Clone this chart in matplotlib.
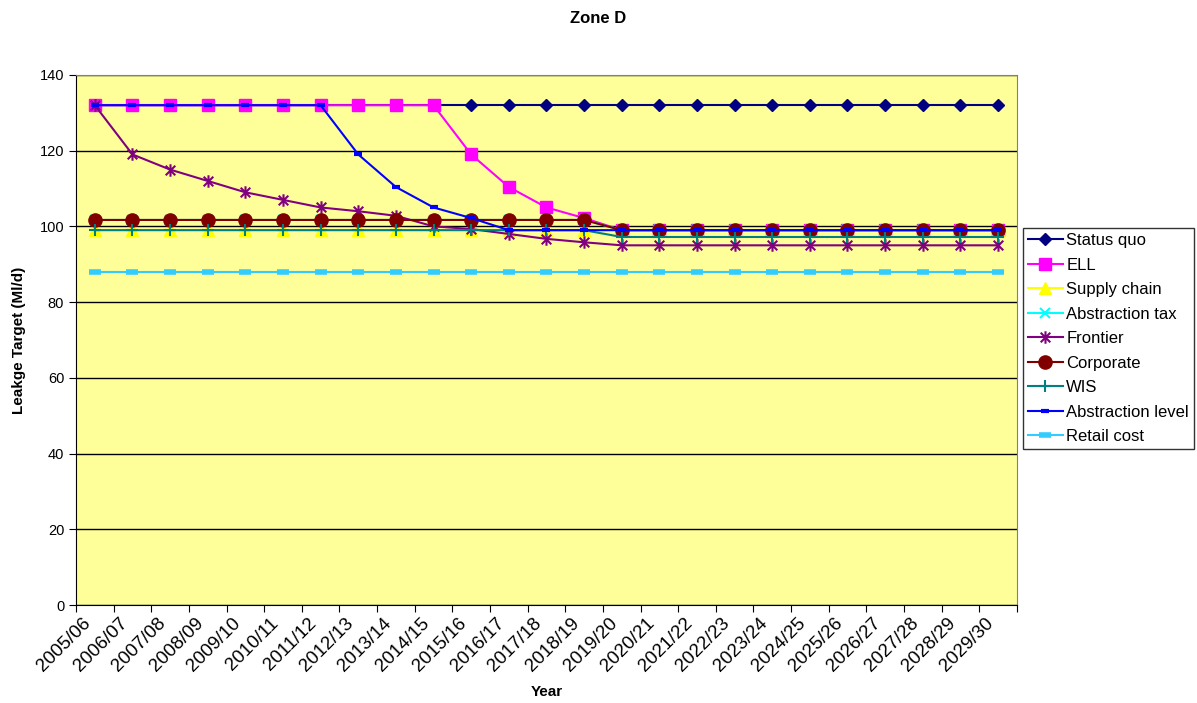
import numpy as np
import matplotlib.pyplot as plt
from matplotlib.path import Path

plt.rcParams['font.family'] = ['Liberation Sans', 'DejaVu Sans']

years = ['2005/06', '2006/07', '2007/08', '2008/09', '2009/10', '2010/11',
         '2011/12', '2012/13', '2013/14', '2014/15', '2015/16', '2016/17',
         '2017/18', '2018/19', '2019/20', '2020/21', '2021/22', '2022/23',
         '2023/24', '2024/25', '2025/26', '2026/27', '2027/28', '2028/29',
         '2029/30']

status_quo = [132] * 25
ell = [132] * 10 + [119, 110.4, 105, 102.2] + [99] * 11
supply_chain = [99] * 25
abstraction_tax = [101.7] * 14 + [99] * 11
frontier = [132, 119, 115, 112, 109, 107, 105, 104, 102.8, 100, 99.3,
            98, 96.7, 95.8] + [95] * 11
corporate = [101.7] * 14 + [99] * 11
wis = [99] * 14 + [97.2] * 11
abstraction_level = [132] * 7 + [119, 110.4, 105, 102.2] + [99] * 14
retail_cost = [88] * 25

# Excel-style star: an x with a vertical bar through it
star = Path([(-1, -1), (1, 1), (-1, 1), (1, -1), (0, -1.3), (0, 1.3)],
            [Path.MOVETO, Path.LINETO, Path.MOVETO, Path.LINETO,
             Path.MOVETO, Path.LINETO])

fig = plt.figure(figsize=(11.97, 7.03), dpi=100)
ax = fig.add_axes([0.0635, 0.1394, 0.786, 0.754])
ax.set_facecolor('#FFFF99')

x = np.arange(len(years))

ax.plot(x, status_quo, color='#000080', marker='D', ms=6, lw=1.5, label='Status quo')
ax.plot(x, ell, color='#FF00FF', marker='s', ms=8.5, lw=1.5, label='ELL')
ax.plot(x, supply_chain, color='#FFFF00', marker='^', ms=8, lw=1.5, label='Supply chain')
ax.plot(x, abstraction_tax, color='#00FFFF', marker='x', ms=7, mew=1.5, lw=1.5,
        label='Abstraction tax')
ax.plot(x, frontier, color='#800080', marker=star, ms=9, mew=1.5, lw=1.5,
        label='Frontier')
ax.plot(x, corporate, color='#800000', marker='o', ms=9.5, lw=1.5, label='Corporate')
ax.plot(x, wis, color='#008080', marker='+', ms=9, mew=1.5, lw=1.5, label='WIS')
ax.plot(x, abstraction_level, color='#0000FF', marker='_', ms=6, mew=3, lw=1.5,
        label='Abstraction level')
ax.plot(x, retail_cost, color='#33CCFF', marker='_', ms=8, mew=4, lw=1.5,
        label='Retail cost')

ax.set_xlim(-0.5, len(years) - 0.5)
ax.set_ylim(0, 140)
ax.set_yticks(np.arange(0, 141, 20))
ax.yaxis.grid(True, color='black', lw=1)
ax.set_axisbelow(True)

ax.set_xticks(np.arange(-0.5, len(years), 1))
ax.set_xticklabels([])
ax.set_xticks(x - 0.35, minor=True)
ax.set_xticklabels(years, minor=True, rotation=45, ha='right',
                   rotation_mode='anchor', fontsize=13.5)
ax.tick_params(axis='x', which='minor', length=0, pad=7)
ax.tick_params(axis='x', which='major', length=5, direction='out')
ax.tick_params(axis='y', length=5, direction='out', labelsize=10.5)

for side in ['top', 'right']:
    ax.spines[side].set_color('#808080')
ax.spines['left'].set_color('black')
ax.spines['bottom'].set_color('black')

ax.set_xlabel('Year', fontsize=11, fontweight='bold', labelpad=7)
ax.set_ylabel('Leakge Target (Ml/d)', fontsize=11, fontweight='bold', labelpad=10)
fig.suptitle('Zone D', fontsize=12, fontweight='bold', y=0.985)

leg = ax.legend(loc='upper left', bbox_to_anchor=(1.0064, 0.711), fontsize=12,
                frameon=True, fancybox=False, edgecolor='black',
                borderpad=0.3, labelspacing=0.57, handlelength=2.1,
                handletextpad=0.2, borderaxespad=0)
leg.get_frame().set_linewidth(1)

fig.savefig('out.png', dpi=100)
